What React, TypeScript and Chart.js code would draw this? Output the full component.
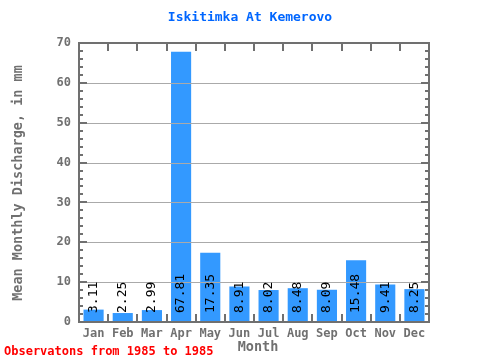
import React, { useEffect, useRef } from "react";
import { Chart, registerables } from "chart.js";

Chart.register(...registerables);

const months = ["Jan", "Feb", "Mar", "Apr", "May", "Jun", "Jul", "Aug", "Sep", "Oct", "Nov", "Dec"];
const discharge = [3.11, 2.25, 2.99, 67.81, 17.35, 8.91, 8.02, 8.48, 8.09, 15.48, 9.41, 8.25];
const valueLabels = ["3.11", "2.25", "2.99", "67.81", "17.35", "8.91", "8.02", "8.48", "8.09", "15.48", "9.41", "8.25"];
const titleText = "Iskitimka At Kemerovo";
const yTitle = "Mean Monthly Discharge, in mm";
const xTitle = "Month";
const noteText = "Observatons from 1985 to 1985";

const MONO = "'DejaVu Sans Mono', 'Liberation Mono', monospace";
const AXIS = "#707070";

const decor = {
  id: "decor",
  afterDatasetsDraw(chart: any) {
    const ctx = chart.ctx;
    const { left, right, top, bottom } = chart.chartArea;
    const y = chart.scales.y;
    const x = chart.scales.x;
    ctx.save();
    // gridlines over bars
    ctx.strokeStyle = "#aaaaaa";
    ctx.lineWidth = 1;
    for (let v = 10; v < 70; v += 10) {
      const py = Math.round(y.getPixelForValue(v)) + 0.5;
      ctx.beginPath();
      ctx.moveTo(left, py);
      ctx.lineTo(right, py);
      ctx.stroke();
    }
    // value labels
    const meta = chart.getDatasetMeta(0);
    ctx.fillStyle = "#000000";
    ctx.font = "13px " + MONO;
    ctx.textAlign = "left";
    ctx.textBaseline = "middle";
    meta.data.forEach((bar: any, i: number) => {
      ctx.save();
      ctx.translate(bar.x, bottom - 9);
      ctx.rotate(-Math.PI / 2);
      ctx.fillText(valueLabels[i], 0, 0);
      ctx.restore();
    });
    // inward ticks
    ctx.strokeStyle = AXIS;
    ctx.lineWidth = 2;
    for (let v = 2; v < 70; v += 2) {
      const py = Math.round(y.getPixelForValue(v));
      const len = v % 10 === 0 ? 8 : 4;
      ctx.beginPath();
      ctx.moveTo(left, py);
      ctx.lineTo(left + len, py);
      ctx.moveTo(right, py);
      ctx.lineTo(right - len, py);
      ctx.stroke();
    }
    const n = months.length;
    for (let i = 1; i < n; i++) {
      const px = Math.round((x.getPixelForValue(i - 1) + x.getPixelForValue(i)) / 2);
      ctx.beginPath();
      ctx.moveTo(px, bottom);
      ctx.lineTo(px, bottom - 8);
      ctx.moveTo(px, top);
      ctx.lineTo(px, top + 8);
      ctx.stroke();
    }
    // frame
    ctx.strokeRect(left, top, right - left, bottom - top);
    ctx.restore();
  },
  afterDraw(chart: any) {
    const ctx = chart.ctx;
    ctx.save();
    ctx.fillStyle = "#0066ff";
    ctx.font = "bold 13px " + MONO;
    ctx.textAlign = "center";
    ctx.textBaseline = "middle";
    ctx.fillText(titleText, 250, 18);

    ctx.fillStyle = AXIS;
    ctx.font = "bold 13.5px " + MONO;
    ctx.fillText(xTitle, 258, 347);
    ctx.save();
    ctx.translate(18, 183);
    ctx.rotate(-Math.PI / 2);
    ctx.fillText(yTitle, 0, 0);
    ctx.restore();

    ctx.fillStyle = "#ff0000";
    ctx.font = "bold 12px " + MONO;
    ctx.textAlign = "left";
    ctx.fillText(noteText, 4, 352);
    ctx.restore();
  },
};

export default function App() {
  const ref = useRef<HTMLCanvasElement | null>(null);
  useEffect(() => {
    document.body.style.margin = "0";
    const canvas = ref.current!;
    const chart = new Chart(canvas, {
      type: "bar",
      data: {
        labels: months,
        datasets: [
          {
            data: discharge,
            backgroundColor: "#3399ff",
            borderWidth: 0,
            barPercentage: 0.69,
            categoryPercentage: 1,
          },
        ],
      },
      options: {
        animation: false,
        responsive: false,
        maintainAspectRatio: false,
        layout: { padding: { top: 43, right: 51, left: 0, bottom: 0 } },
        plugins: { legend: { display: false }, tooltip: { enabled: false }, title: { display: false } },
        scales: {
          x: {
            grid: { display: false, drawTicks: false },
            border: { display: false },
            ticks: { color: AXIS, font: { family: MONO, size: 12, weight: "bold" }, padding: 5, maxRotation: 0 },
            afterFit: (s: any) => { s.height = 38; },
          },
          y: {
            min: 0,
            max: 70,
            grid: { display: false, drawTicks: false },
            border: { display: false },
            ticks: { stepSize: 10, color: AXIS, font: { family: MONO, size: 12, weight: "bold" }, padding: 8 },
            afterFit: (s: any) => { s.width = 79; },
          },
        },
      },
      plugins: [decor],
    });
    return () => chart.destroy();
  }, []);
  return (
    <div style={{ width: 480, height: 360 }}>
      <canvas ref={ref} width={480} height={360} style={{ display: "block" }} />
    </div>
  );
}
